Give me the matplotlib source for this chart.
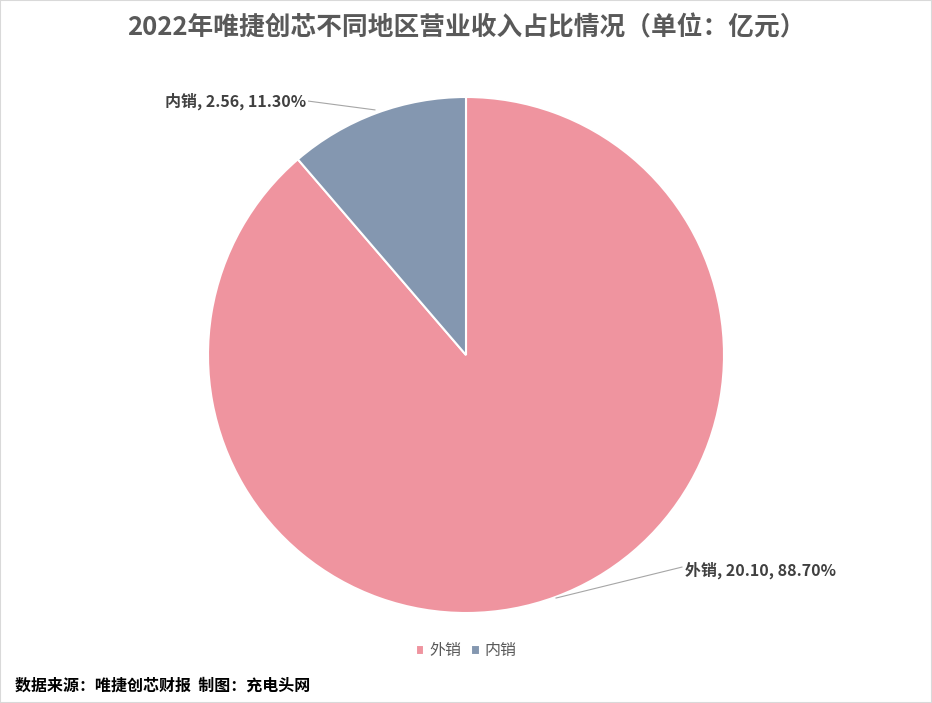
import matplotlib
matplotlib.use("Agg")
import matplotlib.pyplot as plt
from matplotlib.patches import Rectangle

plt.rcParams['font.family'] = ['Noto Sans CJK SC', 'DejaVu Sans']

categories = ["外销", "内销"]
values = [20.10, 2.56]
percents = ["88.70%", "11.30%"]
colors = ["#EF949F", "#8497B0"]
title = "2022年唯捷创芯不同地区营业收入占比情况（单位：亿元）"
source = "数据来源：唯捷创芯财报  制图：充电头网"

W, H = 932, 703
fig = plt.figure(figsize=(W/100, H/100), dpi=100)
fig.patches.append(Rectangle((0, 0), 1, 1, transform=fig.transFigure, fill=False,
                             edgecolor="#D9D9D9", linewidth=1.5))
cx, cy, r = 466, 355, 258
ax = fig.add_axes([(cx-r)/W, (H-cy-r)/H, 2*r/W, 2*r/H])
wedges, _ = ax.pie(values, colors=colors, startangle=90, counterclock=False,
                   radius=1, wedgeprops=dict(edgecolor="white", linewidth=1.5))
ax.set_xlim(-1, 1); ax.set_ylim(-1, 1); ax.set_aspect('equal')
ax.set_clip_on(False)

tc = "#404040"
ax.plot([-0.353, -0.61], [0.950, 0.984], color="#A6A6A6", lw=0.8, clip_on=False)
ax.text(-0.62, 0.984, f"{categories[1]}, {values[1]:.2f}, {percents[1]}", ha="right", va="center",
        fontsize=11.5, fontweight="bold", color=tc)
ax.plot([0.349, 0.837], [-0.942, -0.822], color="#A6A6A6", lw=0.8, clip_on=False)
ax.text(0.85, -0.833, f"{categories[0]}, {values[0]:.2f}, {percents[0]}", ha="left", va="center",
        fontsize=11.5, fontweight="bold", color=tc)

fig.text(0.5, 1-28/H, title, ha="center", va="center", fontsize=18.5, fontweight="bold", color="#595959")

leg = fig.legend(wedges, categories, loc="center", bbox_to_anchor=(0.5, 1-651/H), ncol=2,
                 frameon=False, fontsize=11.5, handlelength=0.55, handleheight=0.55,
                 handletextpad=0.3, columnspacing=0.6)
for t in leg.get_texts():
    t.set_color("#595959")

fig.text(15/W, 1-686/H, source, ha="left", va="center", fontsize=11.5, fontweight="bold", color="black")
fig.savefig("out.png", dpi=100, facecolor="white")
